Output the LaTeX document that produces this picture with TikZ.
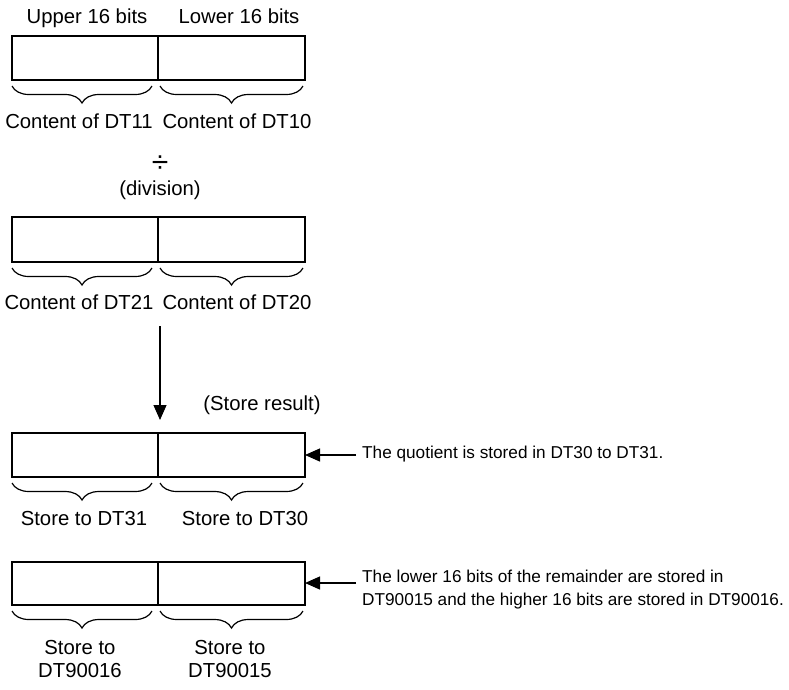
\documentclass[tikz,border=0pt]{standalone}
\usepackage{fontspec}
\setmainfont{Liberation Sans}
\usetikzlibrary{arrows.meta,decorations.pathreplacing,calc}
\begin{document}
\begin{tikzpicture}[x=1pt,y=-1pt,
  cell/.style={draw,line width=1.2pt,minimum width=146pt,minimum height=44pt,inner sep=0pt,outer sep=0pt,anchor=north west},
  brc/.style={draw,line width=1.2pt,decorate,decoration={brace,amplitude=17pt}},
  big/.style={font=\fontsize{20.3}{24}\selectfont,inner sep=0pt,anchor=base},
  small/.style={font=\fontsize{17.2}{22.5}\selectfont,inner sep=0pt,align=left},
  arr/.style={line width=1.2pt,-{Triangle[length=15pt,width=13pt]}}
]
\useasboundingbox (0,0) rectangle (789,689);
% Row 1
\node[big] (u) at (87,23) {Upper 16 bits};
\node[big] (l) at (239,23) {Lower 16 bits};
\node[cell] (a1) at (12,36) {};
\node[cell,minimum width=147pt] (a2) at (158,36) {};
\draw[brc] ($(a1.south east)+(-6,6)$) -- ($(a1.south west)+(0,6)$);
\draw[brc] ($(a2.south east)+(-2,6)$) -- ($(a2.south west)+(2,6)$);
\node[big] (c11) at (79,128) {Content of DT11};
\node[big] (c10) at (237,128) {Content of DT10};
% division
\node[big,font=\fontsize{30}{30}\selectfont] (div) at (160,172) {÷};
\node[big] (divt) at (160,195) {(division)};
% Row 2
\node[cell,minimum height=45pt] (b1) at (12,217) {};
\node[cell,minimum width=147pt,minimum height=45pt] (b2) at (158,217) {};
\draw[brc] ($(b1.south east)+(-6,6)$) -- ($(b1.south west)+(0,6)$);
\draw[brc] ($(b2.south east)+(-2,6)$) -- ($(b2.south west)+(2,6)$);
\node[big] (c21) at (79,309) {Content of DT21};
\node[big] (c20) at (237,309) {Content of DT20};
% Arrow
\coordinate (as) at (160,326);
\node[big] (sr) at (262,410) {(Store result)};
% Row 3
\node[cell] (d1) at (12,433) {};
\node[cell,minimum width=147pt] (d2) at (158,433) {};
\draw[arr] (as) -- ($(d1.north east)+(2,-13)$);
\draw[brc] ($(d1.south east)+(-6,6)$) -- ($(d1.south west)+(0,6)$);
\draw[brc] ($(d2.south east)+(-2,6)$) -- ($(d2.south west)+(2,6)$);
\node[big] (s31) at (84,525) {Store to DT31};
\node[big] (s30) at (245,525) {Store to DT30};
\node[small,anchor=west] (q) at (362,454) {The quotient is stored in DT30 to DT31.};
\coordinate (qa) at (356,455);
\draw[arr] (qa) -- (d2.east);
% Row 4
\node[cell,minimum height=43pt] (e1) at (12,562) {};
\node[cell,minimum width=147pt,minimum height=43pt] (e2) at (158,562) {};
\draw[brc] ($(e1.south east)+(-6,6)$) -- ($(e1.south west)+(0,6)$);
\draw[brc] ($(e2.south east)+(-2,6)$) -- ($(e2.south west)+(2,6)$);
\node[big] (s16a) at (80,654) {Store to};
\node[big] (s16b) at (80,677) {DT90016};
\node[big] (s15a) at (230,654) {Store to};
\node[big] (s15b) at (230,677) {DT90015};
\node[small,anchor=north west] (r) at (362,570) {The lower 16 bits of the remainder are stored in\\DT90015 and the higher 16 bits are stored in DT90016.};
\coordinate (ra) at (356,583);
\draw[arr] (ra) -- (e2.east |- ra);
\end{tikzpicture}
\end{document}
